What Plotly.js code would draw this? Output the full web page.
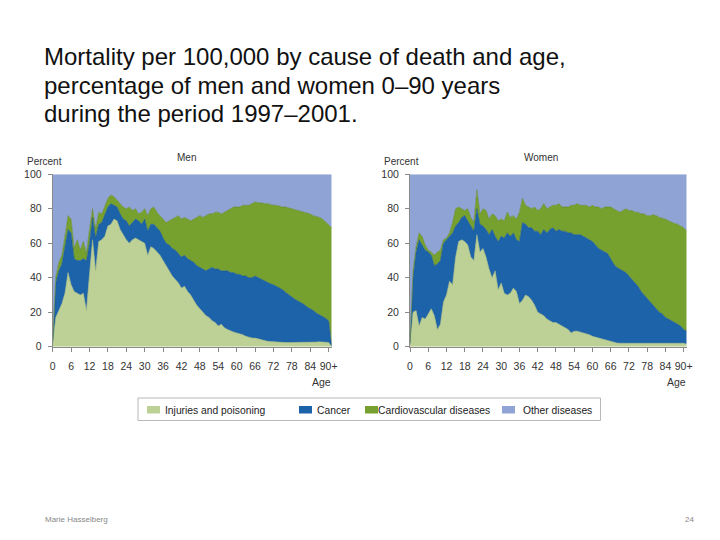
<!DOCTYPE html>
<html><head><meta charset="utf-8">
<script src="https://cdn.plot.ly/plotly-3.0.1.min.js"></script>
<style>html,body{margin:0;padding:0;background:#fff}#chart{width:720px;height:540px}</style>
</head><body><div id="chart"></div>
<script>
const ages = [0,1,2,3,4,5,6,7,8,9,10,11,12,13,14,15,16,17,18,19,20,21,22,23,24,25,26,27,28,29,30,31,32,33,34,35,36,37,38,39,40,41,42,43,44,45,46,47,48,49,50,51,52,53,54,55,56,57,58,59,60,61,62,63,64,65,66,67,68,69,70,71,72,73,74,75,76,77,78,79,80,81,82,83,84,85,86,87,88,89,90,91];
const tickVals = [0,6,12,18,24,30,36,42,48,54,60,66,72,78,84,90];
const tickText = ['0','6','12','18','24','30','36','42','48','54','60','66','72','78','84','90+'];
const yTicks = [0,20,40,60,80,100];
const causes = ['Injuries and poisoning','Cancer','Cardiovascular diseases','Other diseases'];
const colors = ['#BDD197','#1D63AA','#76A12F','#8FA3D4'];
const lineColors = ['#9fb57a','#18528c','#5e8424','#8FA3D4'];

const menInjuries = [2,17,21,25,31,43,36,32,31,30, 31,21,42,62,44,61,62,64,70,71, 74,73,68,65,62,60,62,63,62,61, 60,53,58,57,55,53,50,47,44,41, 39,37,34,35,32,30,27,24,22,20, 18,17,15,14,12,13,11,10,9,8.5, 8,7.5,7,6,5.5,5,5,4.5,4,3.5, 3.2,3,2.8,2.6,2.5,2.5,2.4,2.4,2.4,2.3, 2.4,2.4,2.5,2.5,2.5,2.6,2.7,2.8,2.8,2.7, 2.5,0];
const menCancer = [1,20,23,23,27,25,30,19,19,20, 20,29,18,13,19,10,10,12,11,12, 8,8,9,9,11,10,10,11,11,10, 14,14,13,14,14,14,13,13,15,16, 17,17,18,18,19,20,22,23,24,25, 26,28,31,31,33,31,33,34,34,34.5, 34,34.5,34,35,34.5,35,36,35.5,35,35, 34.3,33.5,33.2,32.4,31.5,30.5,29.1,27.6,26.1,25.2, 24.1,23.1,22,20.5,19.5,18.4,16.8,15.7,14.7,13.8, 12.5,0.5];
const menCardio = [0.5,3,5,5,6,8,8,6,12,6, 10,4,8,5,5,7,5,5,5,5, 5,4,6,7,7,11,7,6,4,7, 6,9,9,10,9,9,11,12,14,17, 19,22,22,22,23,23,25,28,30,30, 32,32,31,33,33,33,34,35,37,38, 39,39,41,41,42,43,43,43.5,44.5,44.5, 45.5,46,46,47,47.5,48,49.5,50.5,51.5,52, 52.5,53,53.5,54.5,55,55,56,56.5,56.5,56, 56,68.5];
const menOther = [96.5,60,51,47,36,24,26,43,38,44, 39,46,32,20,32,22,23,19,14,12, 13,15,17,19,20,19,21,20,23,22, 20,24,20,19,22,24,26,28,27,26, 25,24,26,25,26,27,26,25,24,25, 24,23,23,22,22,23,22,21,20,19, 19,19,18,18,18,17,16,16.5,16.5,17, 17,17.5,18,18,18.5,19,19,19.5,20,20.5, 21,21.5,22,22.5,23,24,24.5,25,26,27.5, 29,31];

const womenInjuries = [1,20,21,12,17,16,19,22,18,10, 13,26,30,38,36,52,61,62,61,59, 52,50,65,55,57,52,45,40,44,33, 37,31,30,31,34,32,25,27,30,29, 27,24,20,19,18,16,15,14,14,13, 12,11,10,8,9,9,8.5,8,7.5,7, 6,5.5,5,4.5,4,3.5,3,2.5,2.2,2, 2,2,2,2,2,2,2,2,2,2, 2,2,2,2,2,2,2,2,2,2, 2,1.5];
const womenCancer = [1,20,34,50,42,40,36,31,29,38, 37,34,32,26,30,18,11,13,15,14, 18,17,15,16,13,16,20,28,20,28, 27,32,36,33,32,30,36,45,41,40, 42,43,47,46,50,50,53,55,53,55, 55,56,56,58,56,56,56.5,56,55.5,55, 55,53.5,52,51.5,51,50.5,48,45.5,43.8,43, 42,41,39,37,35,33,30,28,26,24, 22,20,18,17,15,14,13,12,11,10, 8,7.5];
const womenCardio = [0.5,4,3,4,5,3,1,2,6,7, 6,2,1,2,6,10,9,5,3,7, 5,5,11,6,10,11,9,9,12,12, 10,10,12,11,10,12,17,14,11,12, 11,14,12,15,15,14,13,13,15,15, 14,14,15,16,17,18,17,18,19,19, 21,22,24,24,26,27,30,32,33,33, 35,37,38,40,41,43,45,47,48,50, 52.5,54,55,55.5,57,57,57,57.5,58,58, 59,58];
const womenOther = [97.5,56,42,34,36,41,44,45,47,45, 44,38,37,34,28,20,19,20,21,20, 25,28,9,23,20,21,26,23,24,27, 26,27,22,25,24,26,22,14,18,19, 20,19,21,20,17,20,19,18,18,17, 19,19,19,18,18,17,18,18,18,19, 18,19,19,20,19,19,19,20,21,22, 21,20,21,21,22,22,23,23,24,24, 23.5,24,25,25.5,26,27,28,28.5,29,30, 31,33];

const W = 720, H = 540;
const px = v => v / W;
const py = v => 1 - v / H;
const FONT = 'Liberation Sans, Arial, sans-serif';

const menSeries = [menInjuries, menCancer, menCardio, menOther];
const womenSeries = [womenInjuries, womenCancer, womenCardio, womenOther];
const traces = [];
[[menSeries,'x','y','men'],[womenSeries,'x2','y2','women']].forEach(([series, xa, ya, grp]) => {
  series.forEach((vals, i) => {
    traces.push({
      type: 'scatter', mode: 'lines', x: ages, y: vals, name: causes[i],
      xaxis: xa, yaxis: ya, stackgroup: grp,
      fillcolor: colors[i],
      line: {color: lineColors[i], width: i === 3 ? 0 : 0.6},
      showlegend: false, hoverinfo: 'skip'
    });
  });
});

const xCommon = {
  range: [0, 91], tickmode: 'array', tickvals: tickVals, ticktext: tickText,
  ticks: 'outside', ticklen: 4, tickcolor: '#8a8a8a', tickwidth: 1,
  showline: true, linecolor: '#8a8a8a', linewidth: 1,
  showgrid: false, zeroline: false, ticklabelstandoff: 6,
  tickfont: {size: 10.5, color: '#333', family: FONT}
};
const yCommon = {
  range: [0, 100], tickmode: 'array', tickvals: yTicks,
  ticks: 'outside', ticklen: 4, tickcolor: '#8a8a8a', tickwidth: 1,
  showline: true, linecolor: '#8a8a8a', linewidth: 1,
  showgrid: false, zeroline: false, ticklabelstandoff: 4,
  tickfont: {size: 10.5, color: '#333', family: FONT}
};
const yDom = [py(346.7), py(174.3)];

const ann = [];
const titleLines = ['Mortality per 100,000 by cause of death and age,', 'percentage of men and women 0\u201390 years', 'during the period 1997\u20132001.'];
[57, 85, 113].forEach((y, i) => ann.push({
  text: titleLines[i], x: px(42), y: py(y), xref: 'paper', yref: 'paper',
  xanchor: 'left', yanchor: 'middle', showarrow: false,
  font: {size: 24, color: '#111', family: FONT}
}));
const small = (text, x, y, xanchor, size, color) => ann.push({
  text, x: px(x), y: py(y), xref: 'paper', yref: 'paper', xanchor, yanchor: 'middle',
  showarrow: false, font: {size, color, family: FONT}
});
small('Percent', 25, 161, 'left', 10, '#333');
small('Percent', 382, 161, 'left', 10, '#333');
small('Men', 186, 157, 'center', 10, '#333');
small('Women', 541, 157, 'center', 10, '#333');
small('Age', 333, 382, 'right', 10.5, '#333');
small('Age', 688, 382, 'right', 10.5, '#333');

const legX = [147, 299, 365, 502];
const legTextX = [163, 315, 376, 521];
const shapes = [{
  type: 'rect', xref: 'paper', yref: 'paper', x0: px(138), x1: px(600.5), y0: py(420.5), y1: py(398),
  line: {color: '#b8b8b8', width: 1}, fillcolor: 'rgba(0,0,0,0)'
}];
causes.forEach((c, i) => {
  shapes.push({type: 'rect', xref: 'paper', yref: 'paper', x0: px(legX[i]), x1: px(legX[i] + 13),
    y0: py(413.5), y1: py(406), line: {width: 0}, fillcolor: colors[i]});
  small(c, legTextX[i], 410, 'left', 10.3, '#222');
});
small('Marie Hasselberg', 43, 519, 'left', 8, '#888');
small('24', 689, 519, 'center', 8, '#888');

const layout = {
  width: W, height: H, margin: {l: 0, r: 0, t: 0, b: 0},
  paper_bgcolor: '#fff', plot_bgcolor: '#fff', showlegend: false,
  font: {family: FONT, size: 10, color: '#333'},
  xaxis: Object.assign({}, xCommon, {domain: [px(52.7), px(331.7)], anchor: 'y'}),
  yaxis: Object.assign({}, yCommon, {domain: yDom, anchor: 'x'}),
  xaxis2: Object.assign({}, xCommon, {domain: [px(410), px(686.7)], anchor: 'y2'}),
  yaxis2: Object.assign({}, yCommon, {domain: yDom, anchor: 'x2'}),
  annotations: ann, shapes: shapes
};
Plotly.newPlot('chart', traces, layout, {staticPlot: true, displayModeBar: false});
</script>
</body></html>
